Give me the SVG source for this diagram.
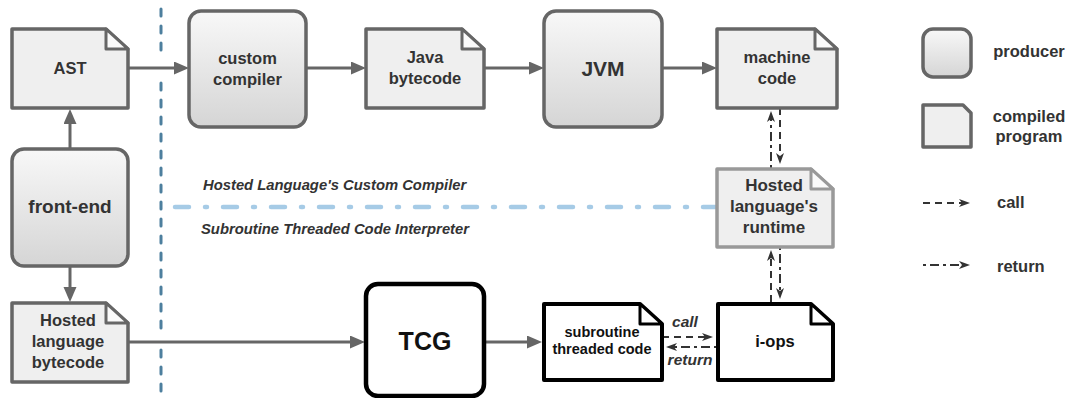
<svg xmlns="http://www.w3.org/2000/svg" width="1071" height="398" viewBox="0 0 1071 398">
  <defs>
    <linearGradient id="producerFill" x1="0" y1="0" x2="0" y2="1">
      <stop offset="0" stop-color="#f8f8f8"/>
      <stop offset="1" stop-color="#d5d5d5"/>
    </linearGradient>
    <marker id="flowHead" markerUnits="userSpaceOnUse" markerWidth="16" markerHeight="14" refX="7" refY="6.5" orient="auto">
      <path d="M0,0 L15,6.5 L0,13 Z" fill="#666"/>
    </marker>
    <marker id="msgHead" markerUnits="userSpaceOnUse" markerWidth="14" markerHeight="10" refX="7" refY="4.5" orient="auto">
      <path d="M0,0.5 L11,4.5 L0,8.5 L3,4.5 Z" fill="#333"/>
    </marker>
    <style>
      .lbl { font-family: "Liberation Sans", Arial, sans-serif; font-weight: bold; fill: #333; text-anchor: middle; }
      .dark { fill: #111; }
      .ital { font-family: "Liberation Sans", Arial, sans-serif; font-weight: bold; font-style: italic; fill: #333; }
      .producer { fill: url(#producerFill); stroke: #666; stroke-width: 3.5; }
      .doc { fill: #efefef; stroke: #666; stroke-width: 3.5; stroke-linejoin: round; }
      .fold { fill: #fafafa; stroke: #666; stroke-width: 3; stroke-linejoin: round; }
      .docRt { fill: #efefef; stroke: #999; stroke-width: 3.5; stroke-linejoin: round; }
      .foldRt { fill: #fafafa; stroke: #999; stroke-width: 3; stroke-linejoin: round; }
      .docBk { fill: #fff; stroke: #000; stroke-width: 4; stroke-linejoin: round; }
      .foldBk { fill: #fff; stroke: #000; stroke-width: 3; stroke-linejoin: round; }
      .boxBk { fill: #fff; stroke: #000; stroke-width: 4.5; }
      .flow { fill: none; stroke: #666; stroke-width: 3; marker-end: url(#flowHead); }
      .call { fill: none; stroke: #333; stroke-width: 2; stroke-dasharray: 7 5; marker-end: url(#msgHead); }
      .ret { fill: none; stroke: #333; stroke-width: 2; stroke-dasharray: 3 4 9 4; marker-end: url(#msgHead); }
      .split { fill: none; stroke: #4d7f9e; stroke-width: 3; stroke-linecap: round; stroke-dasharray: 7 10; }
      .layer { fill: none; stroke: #a6cbe6; stroke-width: 4.5; stroke-linecap: round; stroke-dasharray: 14 16 2 16; }
    </style>
  </defs>

  <!-- boundaries: front-end vs. back-ends, compiler vs. interpreter -->
  <g id="boundaries">
    <path class="split" d="M161,9 V54 M161,83 V329 M161,350 V398"/>
    <path class="layer" d="M175,207 H843"/>
    <text class="ital" x="203" y="190" font-size="14.8">Hosted Language's Custom Compiler</text>
    <text class="ital" x="201" y="234" font-size="14.8">Subroutine Threaded Code Interpreter</text>
  </g>

  <!-- connectors -->
  <g id="connectors">
    <path class="flow" d="M128,68 H181"/>
    <path class="flow" d="M306,68 H358"/>
    <path class="flow" d="M484,68 H536"/>
    <path class="flow" d="M662,68 H709"/>
    <path class="flow" d="M70,148 V117"/>
    <path class="flow" d="M70,266 V294"/>
    <path class="flow" d="M128,342 H357"/>
    <path class="flow" d="M484,342 H534"/>

    <path class="ret" d="M771,168 V115"/>
    <path class="call" d="M780,108 V160"/>
    <path class="call" d="M771,302 V254"/>
    <path class="ret" d="M780,247 V295"/>
    <path class="call" d="M662,337 H709"/>
    <path class="ret" d="M717,347 H670"/>
    <text class="ital" x="685" y="327" font-size="15.5" text-anchor="middle">call</text>
    <text class="ital" x="690" y="365" font-size="15.5" text-anchor="middle">return</text>
  </g>

  <!-- compiler path -->
  <g id="ast">
    <path class="doc" d="M12,29 H106 L128,49 V108 H12 Z"/>
    <path class="fold" d="M106,29 V49 H128 Z"/>
    <text class="lbl" x="70" y="74" font-size="16.5">AST</text>
  </g>
  <g id="custom-compiler">
    <rect class="producer" x="189" y="11" width="117" height="116" rx="12"/>
    <text class="lbl" x="247.5" y="64" font-size="16.5">custom</text>
    <text class="lbl" x="247.5" y="85" font-size="16.5">compiler</text>
  </g>
  <g id="java-bytecode">
    <path class="doc" d="M366,29 H462 L484,49 V108 H366 Z"/>
    <path class="fold" d="M462,29 V49 H484 Z"/>
    <text class="lbl" x="425" y="63" font-size="16.5">Java</text>
    <text class="lbl" x="425" y="84" font-size="16.5">bytecode</text>
  </g>
  <g id="jvm">
    <rect class="producer" x="544" y="11" width="118" height="116" rx="12"/>
    <text class="lbl" x="603" y="76" font-size="21">JVM</text>
  </g>
  <g id="machine-code">
    <path class="doc" d="M717,29 H815 L837,49 V108 H717 Z"/>
    <path class="fold" d="M815,29 V49 H837 Z"/>
    <text class="lbl" x="777" y="63" font-size="16.5">machine</text>
    <text class="lbl" x="777" y="84" font-size="16.5">code</text>
  </g>

  <!-- front-end and its outputs -->
  <g id="front-end">
    <rect class="producer" x="12" y="149" width="116" height="117" rx="12"/>
    <text class="lbl" x="70" y="213" font-size="19">front-end</text>
  </g>
  <g id="hosted-bytecode">
    <path class="doc" d="M12,303 H106 L128,323 V382 H12 Z"/>
    <path class="fold" d="M106,303 V323 H128 Z"/>
    <text class="lbl" x="68" y="326" font-size="16.5">Hosted</text>
    <text class="lbl" x="68" y="347" font-size="16.5">language</text>
    <text class="lbl" x="68" y="368" font-size="16.5">bytecode</text>
  </g>

  <!-- runtime shared by both back-ends -->
  <g id="runtime">
    <path class="docRt" d="M717,169 H811 L833,189 V247 H717 Z"/>
    <path class="foldRt" d="M811,169 V189 H833 Z"/>
    <text class="lbl" x="774" y="191" font-size="17">Hosted</text>
    <text class="lbl" x="774" y="212" font-size="17">language's</text>
    <text class="lbl" x="774" y="233" font-size="17">runtime</text>
  </g>

  <!-- interpreter path -->
  <g id="tcg">
    <rect class="boxBk" x="366" y="284" width="118" height="112" rx="12"/>
    <text class="lbl dark" x="425" y="350" font-size="25">TCG</text>
  </g>
  <g id="threaded-code">
    <path class="docBk" d="M544,304 H640 L662,324 V380 H544 Z"/>
    <path class="foldBk" d="M640,304 V324 H662 Z"/>
    <text class="lbl dark" x="602" y="337" font-size="14.5">subroutine</text>
    <text class="lbl dark" x="602" y="354" font-size="14.5">threaded code</text>
  </g>
  <g id="i-ops">
    <path class="docBk" d="M718,304 H811 L833,324 V380 H718 Z"/>
    <path class="foldBk" d="M811,304 V324 H833 Z"/>
    <text class="lbl dark" x="775" y="347" font-size="16.5">i-ops</text>
  </g>

  <!-- legend -->
  <g id="legend">
    <rect class="producer" x="923" y="29" width="48" height="48" rx="10" stroke-width="3"/>
    <text class="lbl" x="1029" y="57" font-size="16.5">producer</text>
    <path class="doc" d="M923,105 H963 L971,113 V147 H923 Z" stroke-width="3"/>
    <text class="lbl" x="1029" y="122" font-size="16.5">compiled</text>
    <text class="lbl" x="1029" y="142" font-size="16.5">program</text>
    <path class="call" d="M923,203 H966" stroke-dasharray="12 5"/>
    <text class="lbl" x="997" y="208" font-size="16.5" style="text-anchor:start">call</text>
    <path class="ret" d="M923,265 H966" stroke-dasharray="3 5 12 5"/>
    <text class="lbl" x="997" y="272" font-size="16.5" style="text-anchor:start">return</text>
  </g>
</svg>
